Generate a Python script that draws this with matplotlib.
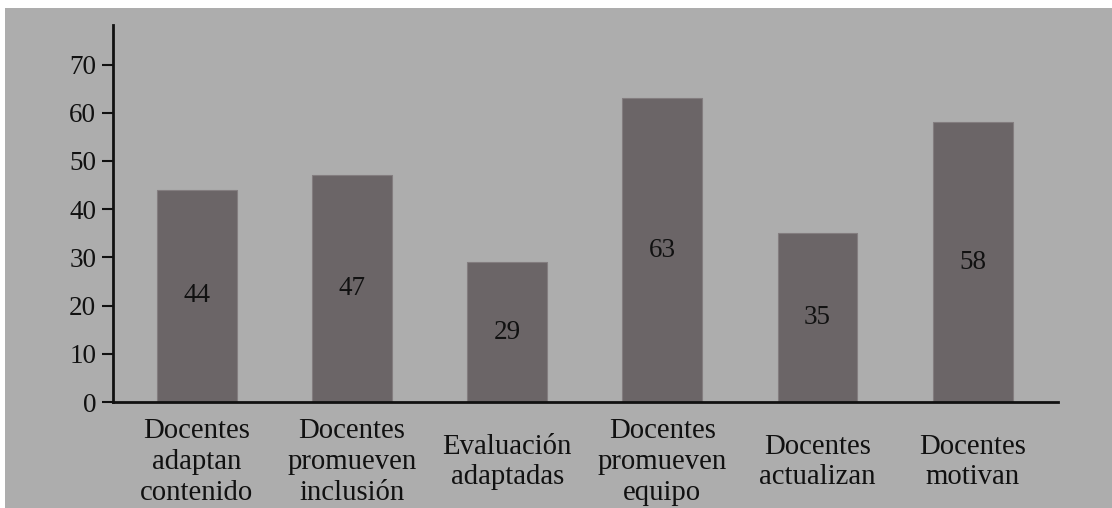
import matplotlib
matplotlib.use("Agg")
import matplotlib.pyplot as plt
from matplotlib.patches import Rectangle

categories = [
    "Docentes\nadaptan\ncontenido",
    "Docentes\npromueven\ninclusión",
    "Evaluación\nadaptadas",
    "Docentes\npromueven\nequipo",
    "Docentes\nactualizan",
    "Docentes\nmotivan",
]
values = [44, 47, 29, 63, 35, 58]
yticks = [0, 10, 20, 30, 40, 50, 60, 70]

BG = "#adadad"
BAR = "#6b6567"
INK = "#111111"
FONT = "Liberation Serif"

W, H = 1112, 508
fig = plt.figure(figsize=(W / 100, H / 100), dpi=100, facecolor="white")

# grey panel behind the chart, leaving a thin white margin top and left
fig.patches.append(Rectangle((5 / W, 0), 1 - 5 / W, (H - 8) / H,
                             transform=fig.transFigure, facecolor=BG,
                             edgecolor="none", zorder=-10))

ax = fig.add_axes([113 / W, (H - 402) / H, (1058 - 113) / W, (402 - 25) / H])
ax.set_facecolor("none")
ax.set_zorder(1)

x = list(range(len(values)))
bars = ax.bar(x, values, width=0.515, color=BAR, edgecolor="#837d7f",
              linewidth=0.8, zorder=2)
ax.bar_label(bars, labels=[str(v) for v in values], label_type="center",
             fontsize=19.5, family=FONT, color=INK)

ax.set_xlim(-0.54, 5.55)
ax.set_ylim(0, 78.2)
ax.set_yticks(yticks)
ax.set_yticklabels([str(t) for t in yticks], fontsize=19.5, family=FONT, color=INK)
ax.tick_params(axis="y", direction="out", length=8, width=1.5, pad=4, colors=INK)
ax.tick_params(axis="x", length=0, pad=0)
ax.set_xticks(x)
ax.set_xticklabels([])

for s in ("top", "right"):
    ax.spines[s].set_visible(False)
for s in ("left", "bottom"):
    ax.spines[s].set_linewidth(2)
    ax.spines[s].set_color(INK)

# category labels, each block centred on a common line below the axis
for xi, lab in zip(x, categories):
    ax.annotate(lab, xy=(xi, 0), xycoords=("data", "axes fraction"),
                xytext=(0, -(462 - 402)), textcoords="offset pixels",
                ha="center", va="center", multialignment="center",
                fontsize=20.7, family=FONT, color=INK, linespacing=1.23,
                annotation_clip=False)

fig.savefig("out.png", dpi=100, facecolor=fig.get_facecolor())
